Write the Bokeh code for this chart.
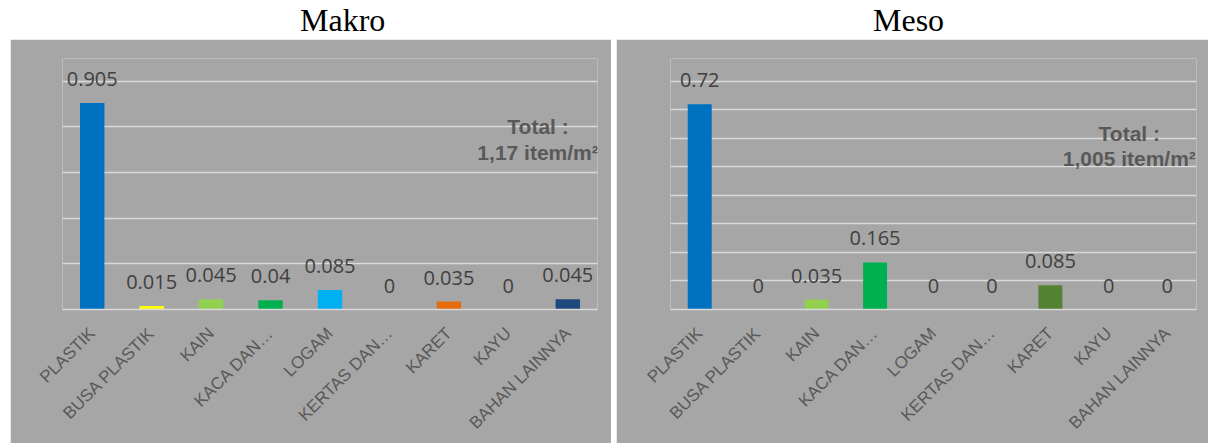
from bokeh.plotting import figure
from bokeh.models import (ColumnDataSource, FactorRange, FixedTicker, LabelSet,
                          Label, Div, Spacer)
from bokeh.layouts import row, column
from bokeh.core.properties import value
from bokeh.embed import file_html
from bokeh.resources import INLINE

categories = ["PLASTIK", "BUSA PLASTIK", "KAIN", "KACA DAN…", "LOGAM",
              "KERTAS DAN…", "KARET", "KAYU", "BAHAN LAINNYA"]
makro_values = [0.905, 0.015, 0.045, 0.04, 0.085, 0, 0.035, 0, 0.045]
meso_values = [0.72, 0, 0.035, 0.165, 0, 0, 0.085, 0, 0]
makro_colors = ["#0070C0", "#FFFF00", "#92D050", "#00B050", "#00B0F0",
                "#C00000", "#E46C0A", "#7F6000", "#1F497D"]
meso_colors = ["#0070C0", "#FFFF00", "#92D050", "#00B050", "#00B0F0",
               "#C00000", "#548235", "#7F6000", "#1F497D"]
makro_ticks = [0, 0.2, 0.4, 0.6, 0.8, 1.0]
meso_ticks = [0, 0.1, 0.2, 0.3, 0.4, 0.5, 0.6, 0.7, 0.8]
makro_total = ["Total :", "1,17 item/m²"]
meso_total = ["Total :", "1,005 item/m²"]

BG = "#A6A6A6"
GRID = "#D9D9D9"


def make_panel(values, colors, ticks, y_end, total, width, height, mb_left,
               mb_right, mb_top, mb_bottom, total_x, total_y):
    src = ColumnDataSource(dict(
        x=categories, top=values, color=colors,
        label=[f"{v:g}" for v in values],
    ))
    p = figure(x_range=FactorRange(*categories), y_range=(0, y_end),
               width=width, height=height, output_backend="svg",
               toolbar_location=None,
               min_border_left=mb_left, min_border_right=mb_right,
               min_border_top=mb_top, min_border_bottom=mb_bottom)
    p.background_fill_color = BG
    p.border_fill_color = BG
    p.outline_line_color = None
    p.ygrid.ticker = FixedTicker(ticks=ticks)
    p.ygrid.grid_line_color = GRID
    p.ygrid.grid_line_width = 1.6
    p.xgrid.grid_line_color = None
    p.vbar(x="x", top="top", width=0.41, fill_color="color", line_color=None,
           source=src)
    labels = LabelSet(x="x", y="top", text="label", source=src, y_offset=17,
                      text_align="center", text_baseline="alphabetic",
                      text_font=value("Open Sans"), text_font_size="20px",
                      text_color="#404040")
    p.add_layout(labels)
    p.yaxis.visible = False
    ax = p.xaxis[0]
    ax.axis_line_color = GRID
    ax.axis_line_width = 1.6
    ax.major_tick_line_color = None
    ax.minor_tick_line_color = None
    ax.major_label_orientation = 0.7854
    ax.major_label_standoff = 15
    ax.major_label_text_font = "Liberation Sans"
    ax.major_label_text_font_size = "17px"
    ax.major_label_text_color = "#595959"
    for txt, yv in zip(total, total_y):
        p.add_layout(Label(x=total_x, y=yv, text=txt, text_align="center",
                           text_baseline="middle", text_font="Liberation Sans",
                           text_font_style="bold", text_font_size="21px",
                           text_color="#595959"))
    return p


p1 = make_panel(makro_values, makro_colors, makro_ticks, 1.1, makro_total,
                601, 404, 52, 14, 19, 134, 8.0, [0.80, 0.69])
p2 = make_panel(meso_values, meso_colors, meso_ticks, 0.88, meso_total,
                592, 404, 54, 12, 16, 132, 7.85, [0.617, 0.528])

title_html = (
    '<div style="position:relative;width:1208px;height:39px;'
    'font-family:\'Liberation Serif\';font-size:32px;line-height:1;color:#000;">'
    '<span style="position:absolute;left:300px;top:4px;">Makro</span>'
    '<span style="position:absolute;left:873px;top:4px;">Meso</span>'
    '</div>'
)
titles = Div(text=title_html, width=1208, height=39, margin=0)

charts = row(Spacer(width=10, height=404), p1, Spacer(width=5, height=404), p2,
             spacing=0)
layout = column(titles, charts, spacing=0)

open("out.html", "w").write(file_html(layout, INLINE))
